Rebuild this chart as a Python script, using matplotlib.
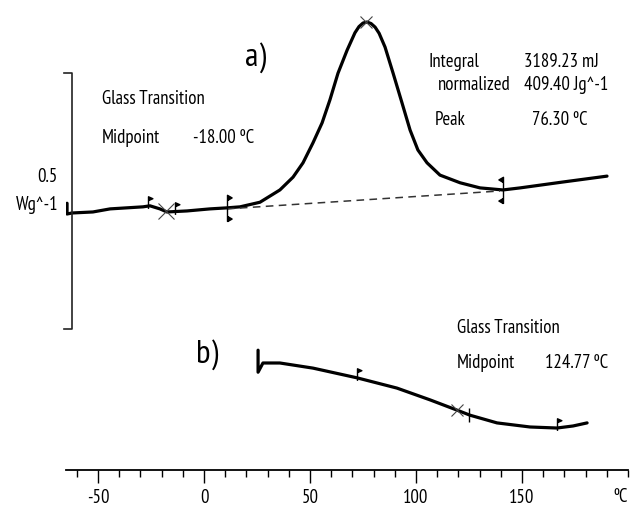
import numpy as np
import matplotlib
matplotlib.use("Agg")
import matplotlib.pyplot as plt
from matplotlib.path import Path
from matplotlib.ticker import MultipleLocator

plt.rcParams["font.family"] = ["PT Sans Narrow", "Roboto Condensed", "DejaVu Sans"]

# curve a) : heat flow (W/g) vs temperature (C)
TEMP_A = [-64.6, -64.6, -62.3, -52.4, -44.3, -28.8, -25.5, -20.8, -17.5, -8.0,
          2.8, 10.8, 17.0, 26.4, 35.8, 42.0, 46.7, 51.4, 55.7, 59.4,
          63.2, 67.5, 71.2, 73.1, 75.0, 76.9, 78.8, 80.7, 82.6, 85.4,
          89.2, 93.4, 97.2, 100.9, 105.2, 111.3, 120.8, 130.2, 141.0, 149.1,
          169.3, 190.1]
HF_A = [0.021, 0.000, 0.002, 0.004, 0.010, 0.014, 0.016, 0.010, 0.004, 0.006,
        0.010, 0.012, 0.014, 0.023, 0.047, 0.072, 0.100, 0.139, 0.178, 0.223,
        0.275, 0.320, 0.354, 0.366, 0.373, 0.375, 0.372, 0.365, 0.353, 0.326,
        0.275, 0.217, 0.164, 0.125, 0.100, 0.076, 0.061, 0.051, 0.047, 0.051,
        0.0625, 0.074]

# integration baseline under the peak
BASE_T = [10.8, 139.6]
BASE_HF = [0.010, 0.045]

# curve b)
TEMP_B = [25.5, 25.5, 27.8, 35.8, 51.4, 72.2, 91.0, 106.6, 119.3, 125.5,
          138.2, 153.8, 166.5, 174.1, 180.7]
HF_B = [-0.266, -0.309, -0.291, -0.291, -0.301, -0.320, -0.340, -0.363, -0.383,
        -0.393, -0.408, -0.416, -0.418, -0.414, -0.408]

# evaluation marks
GT_A_FLAGS = [-26.4, -13.7]
GT_A_MID = -18.0
INT_LIMITS = [10.8, 141.0]
PEAK_T = 76.3
GT_B_FLAGS = [72.2, 166.5]
GT_B_CROSS = 119.3
GT_B_MID = 124.77

SCALE_BAR = 0.5  # W/g
SCALE_BOTTOM = -0.225
SCALE_T = -62.4

# marker shapes
flag = Path([(0, -0.25), (0, 1), (0.45, 0.8), (0, 0.6)],
            [Path.MOVETO, Path.LINETO, Path.LINETO, Path.LINETO])


def limit_marker(side):
    s = side * 0.35
    return Path([(0, -1), (0, 1), (s, 0.8), (0, 0.6),
                 (0, -1), (s, -0.8), (0, -0.6)],
                [Path.MOVETO, Path.LINETO, Path.LINETO, Path.LINETO,
                 Path.MOVETO, Path.LINETO, Path.LINETO])


fig = plt.figure(figsize=(6.31, 5.13), dpi=100)
ax = fig.add_axes([66 / 631, 43 / 513, 562 / 631, 470 / 513])
ax.set_xlim(-65.1, 200.0)
ax.set_ylim(-0.5, 0.418)

ax.plot(TEMP_A, HF_A, color="black", lw=2.3, solid_joinstyle="round",
        solid_capstyle="round")
ax.plot(BASE_T, BASE_HF, color="#333333", lw=1.1, linestyle=(0, (5, 3.5)))
ax.plot(TEMP_B, HF_B, color="black", lw=2.3, solid_joinstyle="round",
        solid_capstyle="round")

# marks on curve a
ta, ha = TEMP_A[2:], HF_A[2:]
ax.plot(GT_A_FLAGS, np.interp(GT_A_FLAGS, ta, ha), linestyle="none",
        marker=flag, markersize=14, color="black", markeredgewidth=1)
ax.plot([GT_A_MID], [np.interp(GT_A_MID, ta, ha)], linestyle="none",
        marker="x", markersize=11, color="#444444", markeredgewidth=0.8)
ax.plot([INT_LIMITS[0]], [np.interp(INT_LIMITS[0], ta, ha)], linestyle="none",
        marker=limit_marker(1), markersize=19, color="black", markeredgewidth=1)
ax.plot([INT_LIMITS[1]], [np.interp(INT_LIMITS[1], ta, ha)], linestyle="none",
        marker=limit_marker(-1), markersize=19, color="black", markeredgewidth=1)
ax.plot([PEAK_T], [max(HF_A)], linestyle="none", marker="x", markersize=9,
        color="#444444", markeredgewidth=0.8)

# marks on curve b
tb, hb = TEMP_B[2:], HF_B[2:]
ax.plot(GT_B_FLAGS, np.interp(GT_B_FLAGS, tb, hb), linestyle="none",
        marker=flag, markersize=14, color="black", markeredgewidth=1)
ax.plot([GT_B_CROSS], [np.interp(GT_B_CROSS, tb, hb)], linestyle="none",
        marker="x", markersize=9, color="#444444", markeredgewidth=0.8)
ax.plot([GT_B_MID], [np.interp(GT_B_MID, tb, hb)], linestyle="none",
        marker="|", markersize=10, color="black", markeredgewidth=1)

# scale bar, a "]" bracket 0.5 W/g high
ax.plot([SCALE_T - 3.5, SCALE_T, SCALE_T, SCALE_T - 3.5],
        [SCALE_BOTTOM + SCALE_BAR, SCALE_BOTTOM + SCALE_BAR, SCALE_BOTTOM, SCALE_BOTTOM],
        color="#222222", lw=1.2, clip_on=False)

# texts
fs = 13.5
ax.text(24.1, 0.305, "a)", fontsize=24, ha="center", va="center")
ax.text(1.4, -0.275, "b)", fontsize=24, ha="center", va="center")
ax.text(-68.9, 0.072, "0.5", fontsize=fs, ha="right", va="center", clip_on=False)
ax.text(-68.9, 0.018, "Wg^-1", fontsize=fs, ha="right", va="center", clip_on=False)
ax.text(-48.1, 0.225, "Glass Transition", fontsize=fs, va="center")
ax.text(-48.1, 0.148, "Midpoint", fontsize=fs, va="center")
ax.text(-5.2, 0.148, "-18.00 ºC", fontsize=fs, va="center")
ax.text(105.7, 0.297, "Integral", fontsize=fs, va="center")
ax.text(150.9, 0.297, "3189.23 mJ", fontsize=fs, va="center")
ax.text(110.4, 0.252, "normalized", fontsize=fs, va="center")
ax.text(150.9, 0.252, "409.40 Jg^-1", fontsize=fs, va="center")
ax.text(109.0, 0.184, "Peak", fontsize=fs, va="center")
ax.text(154.7, 0.184, "76.30 ºC", fontsize=fs, va="center")
ax.text(119.3, -0.223, "Glass Transition", fontsize=fs, va="center")
ax.text(119.3, -0.291, "Midpoint", fontsize=fs, va="center")
ax.text(160.8, -0.291, "124.77 ºC", fontsize=fs, va="center")
ax.text(196.5, -0.553, "ºC", fontsize=fs, ha="center", va="center", clip_on=False)

# temperature axis
for side in ["top", "right", "left"]:
    ax.spines[side].set_visible(False)
ax.spines["bottom"].set_linewidth(1.3)
ax.set_yticks([])
ax.xaxis.set_major_locator(MultipleLocator(50))
ax.xaxis.set_minor_locator(MultipleLocator(10))
ax.tick_params(axis="x", which="major", length=9, width=1, pad=5, labelsize=fs)
ax.tick_params(axis="x", which="minor", length=5, width=1)
ax.set_xticks([-50, 0, 50, 100, 150])
ax.set_xticklabels(["-50", "0", "50", "100", "150"])

fig.savefig("out.png", dpi=100)
